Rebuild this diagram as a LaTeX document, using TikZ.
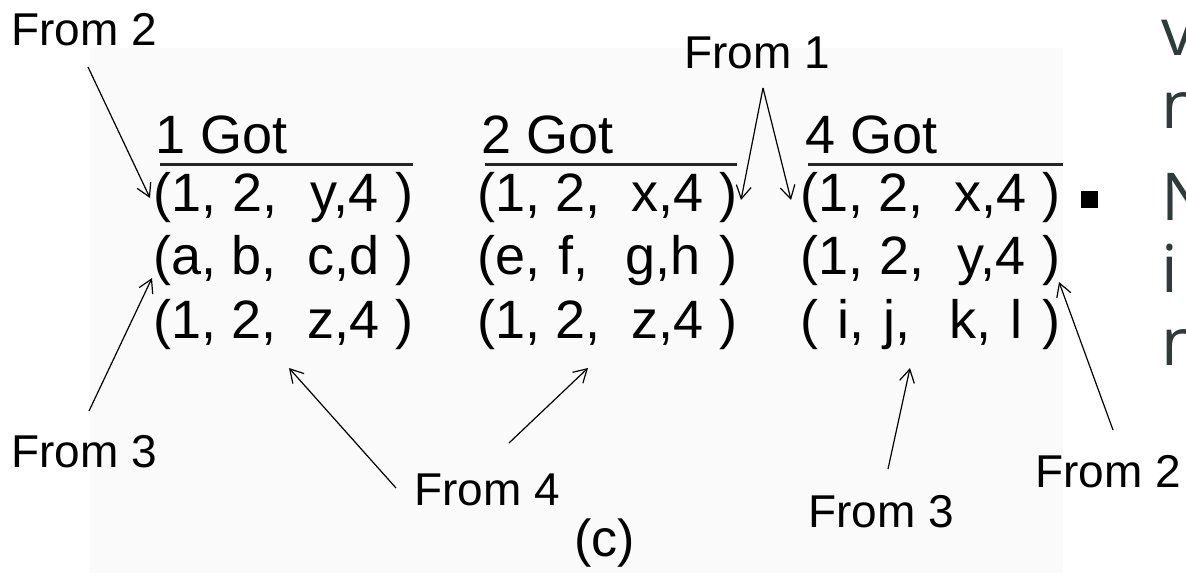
\documentclass[tikz,border=0pt]{standalone}
\usepackage{fontspec}
\setmainfont{Liberation Sans}
\newfontfamily\slidefont{Open Sans}
\usetikzlibrary{arrows.meta}
\definecolor{bgg}{HTML}{FAFAFA}
\definecolor{slate}{HTML}{2E3B3B}
\begin{document}
\begin{tikzpicture}[x=1pt,y=-1pt,
  lab/.style={font=\fontsize{46}{50}\selectfont, anchor=base west, inner sep=0pt},
  hdr/.style={font=\fontsize{54}{58}\selectfont, anchor=base west, inner sep=0pt},
  tup/.style={font=\fontsize{54}{58}\selectfont, anchor=base west, inner sep=0pt},
  side/.style={font=\slidefont\fontsize{66}{70}\selectfont, text=slate, anchor=base west, inner sep=0pt},
  arr/.style={-{Straight Barb[length=13pt,width=15pt,line width=1.2pt]}, line width=1.2pt},
  rulel/.style={line width=3pt, draw=black!85}
]
\useasboundingbox (0,0) rectangle (1186,573);
\clip (0,0) rectangle (1186,573);
\fill[bgg] (90,48) rectangle (1063,573);

% labels
\node[lab] (f2a) at (11,45) {From 2};
\node[lab] (f1)  at (684,68) {From 1};
\node[lab] (f3a) at (11,467) {From 3};
\node[lab] (f4)  at (414,505) {From 4};
\node[lab] (f3b) at (808,527) {From 3};
\node[lab] (f2b) at (1035,487) {From 2};
\node[lab, font=\fontsize{52}{56}\selectfont] (cap) at (574,556) {(c)};

% headers
\node[hdr] (h1) at (155,153) {1 Got};
\node[hdr] (h2) at (481,153) {2 Got};
\node[hdr] (h4) at (805,153) {4 Got};
\draw[rulel] (160,164) -- (413,164);
\draw[rulel] (485,164) -- (737,164);
\draw[rulel] (808,164) -- (1063,164);

% tuples
\node[tup] (r11) at (153,211) {\makebox[260pt][s]{(1,\ 2,\ \ y,4\ )}};
\node[tup] (r12) at (153,274) {\makebox[260pt][s]{(a,\ b,\ \ c,d\ )}};
\node[tup] (r13) at (153,338) {\makebox[260pt][s]{(1,\ 2,\ \ z,4\ )}};
\node[tup] (r21) at (477,211) {\makebox[260pt][s]{(1,\ 2,\ \ x,4\ )}};
\node[tup] (r22) at (477,274) {\makebox[260pt][s]{(e,\ f,\ \ g,h\ )}};
\node[tup] (r23) at (477,338) {\makebox[260pt][s]{(1,\ 2,\ \ z,4\ )}};
\node[tup] (r31) at (800,211) {\makebox[260pt][s]{(1,\ 2,\ \ x,4\ )}};
\node[tup] (r32) at (800,274) {\makebox[260pt][s]{(1,\ 2,\ \ y,4\ )}};
\node[tup] (r33) at (800,338) {\makebox[260pt][s]{(\ i,\ j,\ \ k,\ l\ )}};

% bullet and cut-off slide text
\node[fill=black, minimum size=17pt, inner sep=0pt] (bul) at (1089,199) {};
\node[side] (s1) at (1161,55) {v};
\node[side] (s2) at (1161,128) {n};
\node[side] (s3) at (1161,220) {N};
\node[side] (s4) at (1161,292) {i};
\node[side] (s5) at (1161,365) {n};

% arrow end points
\coordinate (a1s) at (88,67);   \coordinate (a1t) at (150,198);
\coordinate (a2s) at (89,411);  \coordinate (a2t) at (152,278);
\coordinate (a3s) at (396,488); \coordinate (a3t) at (289,368);
\coordinate (a4s) at (509,443); \coordinate (a4t) at (588,368);
\coordinate (a5s) at (763,88);  \coordinate (a5t) at (741,200);
\coordinate (a6t) at (791,200);
\coordinate (a7s) at (888,469); \coordinate (a7t) at (910,368);
\coordinate (a8s) at (1113,430);\coordinate (a8t) at (1059,282);

\draw[arr] (a1s) -- (a1t);
\draw[arr] (a2s) -- (a2t);
\draw[arr] (a3s) -- (a3t);
\draw[arr] (a4s) -- (a4t);
\draw[arr] (a5s) -- (a5t);
\draw[arr] (a5s) -- (a6t);
\draw[arr] (a7s) -- (a7t);
\draw[arr] (a8s) -- (a8t);
\end{tikzpicture}
\end{document}
